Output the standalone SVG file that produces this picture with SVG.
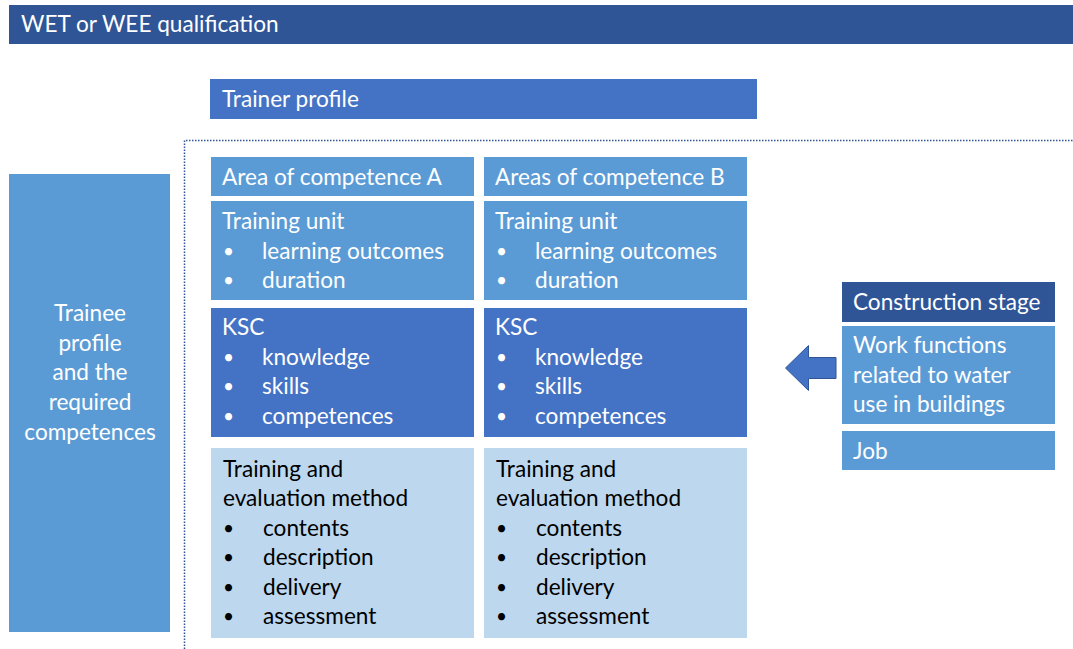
<svg xmlns="http://www.w3.org/2000/svg" width="1073" height="649" viewBox="0 0 1073 649">
<style>
text{font-family:Lato,"Liberation Sans",sans-serif;font-size:22.6px;fill:#fff}
.dk{fill:#000}
.c{text-anchor:middle}
.bl{font-size:19px}
.b1{fill:#2F5597}
.b2{fill:#4472C4}
.b3{fill:#5B9BD5}
.b4{fill:#BDD7EE}
</style>
<rect width="1073" height="649" fill="#fff"/>
<g id="title"><rect class="b1" x="9" y="5" width="1064" height="39"/><text x="21" y="32">WET or WEE qualification</text></g>
<g id="trainer"><rect class="b2" x="210" y="79" width="547" height="40"/><text x="222" y="107">Trainer profile</text></g>
<g id="frame"><path d="M184.5 649V140.5H1073" fill="none" stroke="#2F5597" stroke-width="1.5" stroke-dasharray="1.5 1.5"/></g>
<g id="trainee"><rect class="b3" x="9" y="174" width="161" height="458"/>
<text class="c" x="90" y="321">Trainee</text><text class="c" x="90" y="351">profile</text><text class="c" x="90" y="380">and the</text><text class="c" x="90" y="410">required</text><text class="c" x="90" y="440">competences</text></g>
<g id="areaA"><rect class="b3" x="211" y="157" width="263" height="39"/><text x="222" y="185">Area of competence A</text></g>
<g id="unitA"><rect class="b3" x="211" y="201" width="263" height="99"/><text x="222" y="229">Training unit</text><text class="bl" x="223" y="258">•</text><text x="262" y="259">learning outcomes</text><text class="bl" x="223" y="287">•</text><text x="262" y="288">duration</text></g>
<g id="kscA"><rect class="b2" x="211" y="308" width="263" height="129"/><text x="222" y="335">KSC</text><text class="bl" x="223" y="364">•</text><text x="262" y="365">knowledge</text><text class="bl" x="223" y="393">•</text><text x="262" y="394">skills</text><text class="bl" x="223" y="423">•</text><text x="262" y="424">competences</text></g>
<g id="methodA"><rect class="b4" x="211" y="448" width="263" height="190"/><text class="dk" x="223" y="477">Training and</text><text class="dk" x="223" y="506">evaluation method</text><text class="dk bl" x="223" y="535">•</text><text class="dk" x="263" y="536">contents</text><text class="dk bl" x="223" y="564">•</text><text class="dk" x="263" y="565">description</text><text class="dk bl" x="223" y="594">•</text><text class="dk" x="263" y="595">delivery</text><text class="dk bl" x="223" y="623">•</text><text class="dk" x="263" y="624">assessment</text></g>
<g id="areaB"><rect class="b3" x="484" y="157" width="263" height="39"/><text x="495" y="185">Areas of competence B</text></g>
<g id="unitB"><rect class="b3" x="484" y="201" width="263" height="99"/><text x="495" y="229">Training unit</text><text class="bl" x="496" y="258">•</text><text x="535" y="259">learning outcomes</text><text class="bl" x="496" y="287">•</text><text x="535" y="288">duration</text></g>
<g id="kscB"><rect class="b2" x="484" y="308" width="263" height="129"/><text x="495" y="335">KSC</text><text class="bl" x="496" y="364">•</text><text x="535" y="365">knowledge</text><text class="bl" x="496" y="393">•</text><text x="535" y="394">skills</text><text class="bl" x="496" y="423">•</text><text x="535" y="424">competences</text></g>
<g id="methodB"><rect class="b4" x="484" y="448" width="263" height="190"/><text class="dk" x="496" y="477">Training and</text><text class="dk" x="496" y="506">evaluation method</text><text class="dk bl" x="496" y="535">•</text><text class="dk" x="536" y="536">contents</text><text class="dk bl" x="496" y="564">•</text><text class="dk" x="536" y="565">description</text><text class="dk bl" x="496" y="594">•</text><text class="dk" x="536" y="595">delivery</text><text class="dk bl" x="496" y="623">•</text><text class="dk" x="536" y="624">assessment</text></g>
<g id="stage"><rect class="b1" x="842" y="282" width="213" height="40"/><text x="853" y="310">Construction stage</text></g>
<g id="functions"><rect class="b3" x="842" y="326" width="213" height="98"/><text x="853" y="353">Work functions</text><text x="853" y="383">related to water</text><text x="853" y="412">use in buildings</text></g>
<g id="job"><rect class="b3" x="842" y="431" width="213" height="39"/><text x="853" y="459">Job</text></g>
<g id="connectors"><path d="M836 357.5H808.5V345.5L785.5 368L808.5 390.5V378.5H836Z" fill="#4472C4" stroke="#2F5597" stroke-width="1"/></g>
</svg>
